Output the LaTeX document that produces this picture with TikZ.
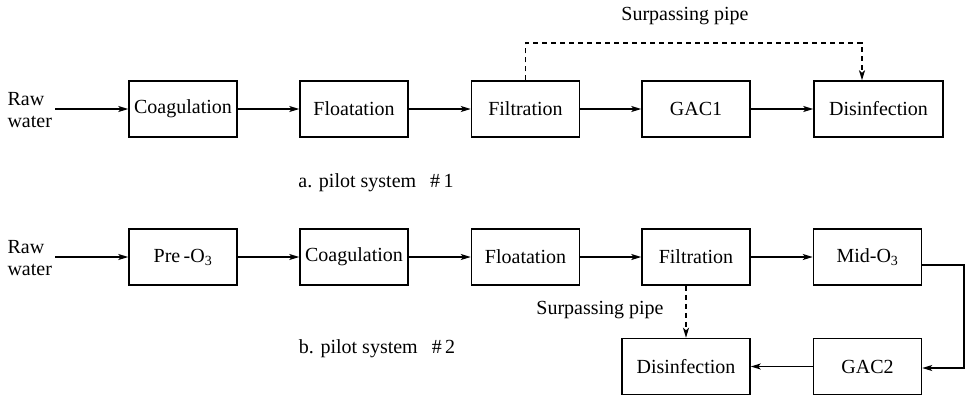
\documentclass[tikz,border=0pt]{standalone}
\usepackage{fontspec}
\setmainfont{Liberation Serif}
\usetikzlibrary{arrows.meta,calc}
\begin{document}
\begin{tikzpicture}[x=1pt,y=-1pt,
  every node/.style={font=\fontsize{20}{22}\selectfont},
  box/.style={draw,line width=1.5pt,minimum width=108pt,minimum height=56pt,inner sep=0pt},
  wbox/.style={box,minimum width=129pt},
  flow/.style={line width=1.5pt,-{Stealth[length=10pt,width=6pt,inset=2.5pt]}},
  bypass/.style={flow,dashed,dash pattern=on 5pt off 4pt}]
\useasboundingbox (0,0) rectangle (966,397);
% system 1
\node[align=left,anchor=west] (raw1) at (4,110) {Raw\\water};
\node[box] (coag1) at (183,109) {Coagulation};
\node[box] (flo1) at (354,109) {Floatation};
\node[box] (fil1) at (525.5,109) {Filtration};
\node[box] (gac1) at (696,109) {GAC1};
\node[wbox] (dis1) at (878.5,109) {Disinfection};
\coordinate (c1) at (862,43);
\node (sp1) at (685,16) {Surpassing pipe};
\node (lab1) at (376,183) {a. pilot system\hspace{14pt}\#\,1};
\draw[flow] (55,109) -- (coag1.west);
\draw[flow] (coag1) -- (flo1);
\draw[flow] (flo1) -- (fil1);
\draw[flow] (fil1) -- (gac1);
\draw[flow] (gac1) -- (dis1);
\draw[bypass] (fil1.north) |- (c1) -- (c1 |- dis1.north);
% system 2
\node[align=left,anchor=west] (raw2) at (4,258) {Raw\\water};
\node[box] (pre) at (183,257) {Pre\,-O\textsubscript{3}};
\node[box] (coag2) at (354,257) {Coagulation};
\node[box] (flo2) at (525.5,257) {Floatation};
\node[box] (fil2) at (696,257) {Filtration};
\node[box] (mid) at (867.5,257) {Mid-O\textsubscript{3}};
\node[box,minimum width=128pt] (dis2) at (686,366.5) {Disinfection};
\node[box] (gac2) at (867.5,366.5) {GAC2};
\node (sp2) at (600,310) {Surpassing pipe};
\node (lab2) at (377,349) {b. pilot system\hspace{14pt}\#\,2};
\coordinate (c2) at (964,265);
\coordinate (c3) at (964,368);
\draw[flow] (55,257) -- (pre.west);
\draw[flow] (pre) -- (coag2);
\draw[flow] (coag2) -- (flo2);
\draw[flow] (flo2) -- (fil2);
\draw[flow] (fil2) -- (mid);
\draw[flow] (mid.east |- c2) -- (c2) -- (c3) -- (gac2.east |- c3);
\draw[flow] (gac2) -- (dis2);
\draw[bypass] (dis2.north |- fil2.south) -- (dis2.north);
\end{tikzpicture}
\end{document}
